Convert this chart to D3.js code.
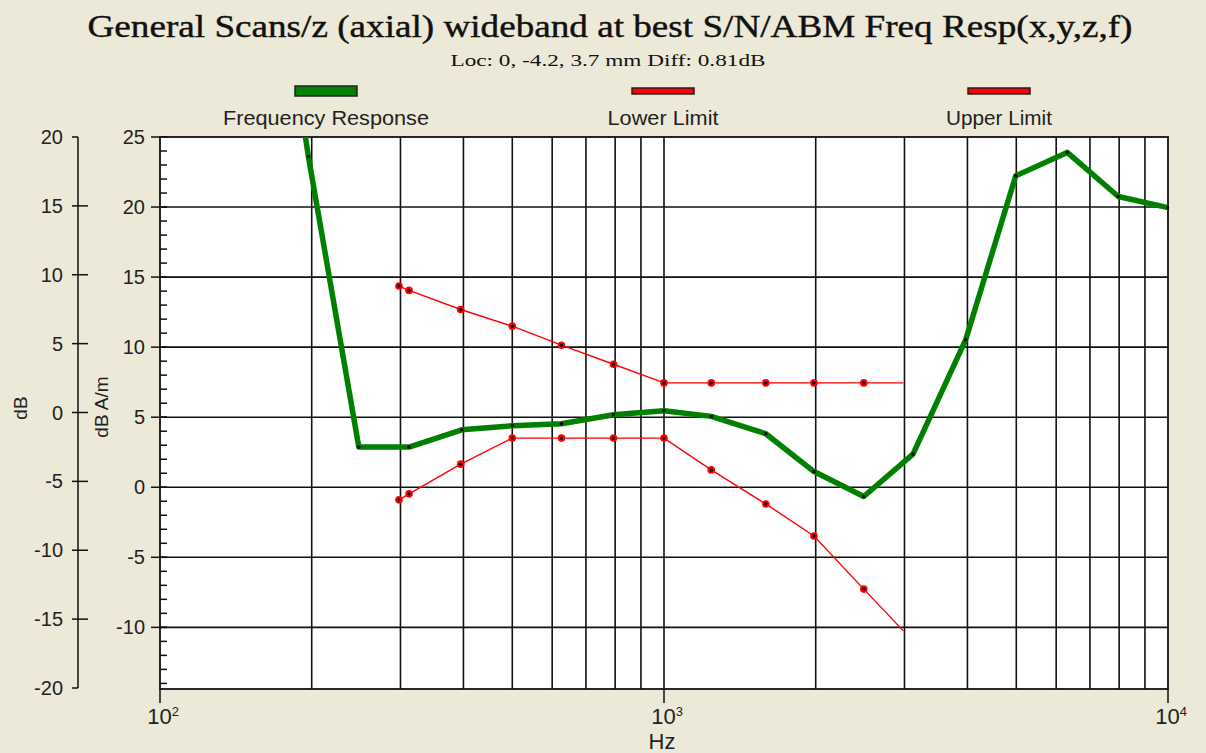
<!DOCTYPE html>
<html lang="en">
    <head>
        <meta charset="utf-8">
        <title>General Scans/z Freq Resp</title>
        <script src="https://d3js.org/d3.v7.min.js"></script>
        <style>
            body { margin: 0; background: #ECE9D8; }
        </style>
    </head>
    <body>
        <script type="text/javascript">

            // size of the picture and the plot box
            var w = 1206;
            var h = 753;
            var plotL = 160, plotR = 1168, plotT = 137, plotB = 689;

            // frequency response (dB A/m), first point lies above the plot
            var respFreq = [160, 197, 248, 312, 397, 500, 626, 794, 1000, 1241, 1592, 1984, 2491, 3119, 3969, 4988, 6310, 7967, 10000];
            var respVal = [45, 23.6, 2.87, 2.87, 4.1, 4.39, 4.53, 5.18, 5.46, 5.06, 3.82, 1.12, -0.66, 2.37, 10.54, 22.23, 23.9, 20.75, 19.96];

            // limit lines, last point has no marker
            var limFreq = [298, 312, 395, 500, 626, 794, 1000, 1241, 1592, 1984, 2491, 2985];
            var upperVal = [14.36, 14.05, 12.69, 11.5, 10.14, 8.78, 7.45, 7.45, 7.45, 7.45, 7.45, 7.45];
            var lowerVal = [-0.9, -0.47, 1.65, 3.51, 3.51, 3.51, 3.51, 1.24, -1.19, -3.48, -7.27, -10.25];

            // axis ticks
            var innerTicks = [25, 20, 15, 10, 5, 0, -5, -10];
            var outerTicks = [20, 15, 10, 5, 0, -5, -10, -15, -20];
            var decadeTicks = [100, 1000, 10000];
            var decadeExp = ["2", "3", "4"];
            var gridFreq = [200, 300, 400, 500, 600, 700, 800, 900, 1000, 2000, 3000, 4000, 5000, 6000, 7000, 8000, 9000];

            var legendNames = ["Frequency Response", "Lower Limit", "Upper Limit"];

            var x = d3.scaleLog().domain([100, 10000]).range([plotL, plotR]);
            var y = d3.scaleLinear().domain([-14.4, 25]).range([plotB, plotT]);
            var yOuter = d3.scaleLinear().domain([-20, 20]).range([688, plotT]);

            var svg = d3.select("body")
                .append("svg")
                .attr("width", w)
                .attr("height", h)
                .style("display", "block");

            svg.append("rect").attr("width", w).attr("height", h).attr("fill", "#ECE9D8");

            // title
            svg.append("text")
                .attr("x", 610).attr("y", 37)
                .attr("text-anchor", "middle")
                .attr("font-family", "Liberation Serif")
                .attr("font-size", 31)
                .attr("fill", "#111")
                .attr("stroke", "#111").attr("stroke-width", 0.4)
                .attr("textLength", 1045)
                .attr("lengthAdjust", "spacingAndGlyphs")
                .text("General Scans/z (axial) wideband at best S/N/ABM Freq Resp(x,y,z,f)");

            svg.append("text")
                .attr("x", 608).attr("y", 66)
                .attr("text-anchor", "middle")
                .attr("font-family", "Liberation Serif")
                .attr("font-size", 16)
                .attr("fill", "#111")
                .attr("textLength", 315)
                .attr("lengthAdjust", "spacingAndGlyphs")
                .text("Loc: 0, -4.2, 3.7 mm Diff: 0.81dB");

            // legend
            var legX = [326, 663, 999];
            var legW = [206, 111, 106];
            var legColor = ["#008000", "#ff0000", "#ff0000"];
            var legH = [10, 6, 6];

            legendNames.forEach(function (name, i) {
                svg.append("rect")
                    .attr("x", legX[i] - 31).attr("y", 91 - legH[i] / 2)
                    .attr("width", 62).attr("height", legH[i])
                    .attr("fill", legColor[i])
                    .attr("stroke", "#222").attr("stroke-width", 1.5);
                svg.append("text")
                    .attr("x", legX[i]).attr("y", 125)
                    .attr("text-anchor", "middle")
                    .attr("font-family", "Liberation Sans")
                    .attr("font-size", 20)
                    .attr("fill", "#222")
                    .attr("textLength", legW[i])
                    .attr("lengthAdjust", "spacingAndGlyphs")
                    .text(name);
            });

            // plot area
            svg.append("rect")
                .attr("x", plotL).attr("y", plotT)
                .attr("width", plotR - plotL).attr("height", plotB - plotT)
                .attr("fill", "#fff");

            var grid = svg.append("g").attr("stroke", "#111").attr("stroke-width", 1.6);

            grid.selectAll("line.v")
                .data(gridFreq)
                .enter()
                .append("line")
                .attr("x1", function(d) { return x(d); })
                .attr("x2", function(d) { return x(d); })
                .attr("y1", plotT).attr("y2", plotB);

            grid.selectAll("line.h")
                .data(innerTicks.filter(function(d) { return d < 25; }))
                .enter()
                .append("line")
                .attr("x1", plotL).attr("x2", plotR)
                .attr("y1", function(d) { return y(d); })
                .attr("y2", function(d) { return y(d); });

            svg.append("rect")
                .attr("x", plotL).attr("y", plotT)
                .attr("width", plotR - plotL).attr("height", plotB - plotT)
                .attr("fill", "none")
                .attr("stroke", "#111").attr("stroke-width", 1.8);

            // inner axis (dB A/m)
            var inner = svg.append("g").attr("stroke", "#111").attr("stroke-width", 1.5);
            inner.selectAll("line.minor")
                .data(d3.range(-14, 25, 1))
                .enter()
                .append("line")
                .attr("x1", plotL).attr("x2", plotL + 7)
                .attr("y1", function(d) { return y(d); })
                .attr("y2", function(d) { return y(d); });
            inner.selectAll("line.major")
                .data(innerTicks)
                .enter()
                .append("line")
                .attr("x1", plotL - 9).attr("x2", plotL + 7)
                .attr("y1", function(d) { return y(d); })
                .attr("y2", function(d) { return y(d); });

            svg.selectAll("text.inner")
                .data(innerTicks)
                .enter()
                .append("text")
                .attr("x", 145)
                .attr("y", function(d) { return y(d) + 7; })
                .attr("text-anchor", "end")
                .attr("font-family", "Liberation Sans")
                .attr("font-size", 20)
                .attr("fill", "#222")
                .text(function(d) { return d; });

            // outer axis (dB)
            var outer = svg.append("g").attr("stroke", "#111").attr("stroke-width", 1.5);
            outer.append("line")
                .attr("x1", 78).attr("x2", 78)
                .attr("y1", yOuter(20)).attr("y2", yOuter(-20));
            outer.selectAll("line.t")
                .data(outerTicks)
                .enter()
                .append("line")
                .attr("x1", 72)
                .attr("x2", function(d) { return Math.abs(d) === 20 ? 78 : 88; })
                .attr("y1", function(d) { return yOuter(d); })
                .attr("y2", function(d) { return yOuter(d); });

            svg.selectAll("text.outer")
                .data(outerTicks)
                .enter()
                .append("text")
                .attr("x", 63)
                .attr("y", function(d) { return yOuter(d) + 7; })
                .attr("text-anchor", "end")
                .attr("font-family", "Liberation Sans")
                .attr("font-size", 20)
                .attr("fill", "#222")
                .text(function(d) { return d; });

            svg.append("text")
                .attr("transform", "translate(27,408) rotate(-90)")
                .attr("text-anchor", "middle")
                .attr("font-family", "Liberation Sans")
                .attr("font-size", 19)
                .attr("fill", "#222")
                .text("dB");

            svg.append("text")
                .attr("transform", "translate(108,407) rotate(-90)")
                .attr("text-anchor", "middle")
                .attr("font-family", "Liberation Sans")
                .attr("font-size", 19)
                .attr("fill", "#222")
                .text("dB A/m");

            // x axis
            svg.append("g").attr("stroke", "#111").attr("stroke-width", 1.5)
                .selectAll("line")
                .data(decadeTicks)
                .enter()
                .append("line")
                .attr("x1", function(d) { return x(d); })
                .attr("x2", function(d) { return x(d); })
                .attr("y1", plotB).attr("y2", plotB + 14);

            var xl = svg.selectAll("text.dec")
                .data(decadeTicks)
                .enter()
                .append("text")
                .attr("x", function(d) { return x(d) + 3; })
                .attr("y", 724)
                .attr("text-anchor", "middle")
                .attr("font-family", "Liberation Sans Narrow, Liberation Sans")
                .attr("font-size", 22)
                .attr("fill", "#222");
            xl.append("tspan").text("10");
            xl.append("tspan")
                .attr("font-size", 13)
                .attr("dy", -8)
                .text(function(d, i) { return decadeExp[i]; });

            svg.append("text")
                .attr("x", 662).attr("y", 749)
                .attr("text-anchor", "middle")
                .attr("font-family", "Liberation Sans Narrow, Liberation Sans")
                .attr("font-size", 22)
                .attr("fill", "#222")
                .text("Hz");

            // data
            svg.append("clipPath").attr("id", "clip")
                .append("rect")
                .attr("x", plotL).attr("y", plotT)
                .attr("width", plotR - plotL + 1).attr("height", plotB - plotT);

            var plot = svg.append("g").attr("clip-path", "url(#clip)");

            var resp = respFreq.map(function(f, i) { return [f, respVal[i]]; });
            var upper = limFreq.map(function(f, i) { return [f, upperVal[i]]; });
            var lower = limFreq.map(function(f, i) { return [f, lowerVal[i]]; });

            var line = d3.line()
                .x(function(d) { return x(d[0]); })
                .y(function(d) { return y(d[1]); });

            [upper, lower].forEach(function (set) {
                plot.append("path")
                    .datum(set)
                    .attr("d", line)
                    .attr("fill", "none")
                    .attr("stroke", "#ff0000")
                    .attr("stroke-width", 1.4);
                plot.selectAll(null)
                    .data(set.slice(0, -1))
                    .enter()
                    .append("circle")
                    .attr("cx", function(d) { return x(d[0]); })
                    .attr("cy", function(d) { return y(d[1]); })
                    .attr("r", 3.8)
                    .attr("fill", "#ff0000");
                plot.selectAll(null)
                    .data(set.slice(0, -1))
                    .enter()
                    .append("circle")
                    .attr("cx", function(d) { return x(d[0]); })
                    .attr("cy", function(d) { return y(d[1]); })
                    .attr("r", 1.7)
                    .attr("fill", "#000");
            });

            plot.append("path")
                .datum(resp)
                .attr("d", line)
                .attr("fill", "none")
                .attr("stroke", "#008000")
                .attr("stroke-width", 5.5)
                .attr("stroke-linejoin", "round");

            plot.selectAll(null)
                .data(resp)
                .enter()
                .append("rect")
                .attr("x", function(d) { return x(d[0]) - 1.5; })
                .attr("y", function(d) { return y(d[1]) - 1.5; })
                .attr("width", 3).attr("height", 3)
                .attr("fill", "#000");

        </script>
    </body>
</html>
